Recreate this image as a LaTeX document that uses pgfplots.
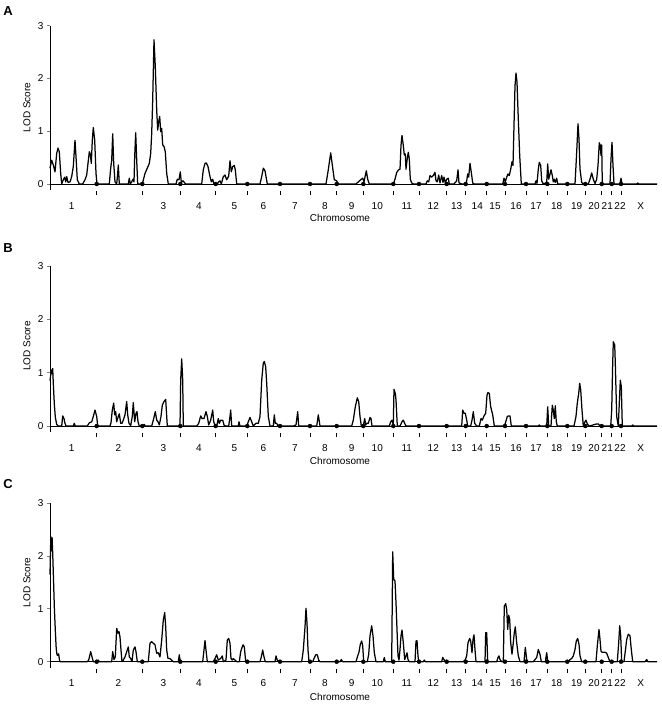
\documentclass[border=0pt]{standalone}
\usepackage{fontspec}
\setmainfont{Liberation Sans}
\usepackage{pgfplots}
\pgfplotsset{compat=1.18}

% x is genome position in screen units (one unit per pixel of the figure)
\pgfplotsset{lodpanel/.style={
    scale only axis, width=607pt,
    xmin=50, xmax=657, ymin=-0.11, ymax=3,
    axis lines*=left,
    x axis line style={draw=none},
    y axis line style={line width=0.8pt},
    xtick={71.7,118.3,163.3,199,234.3,263.3,295,325,351.7,377.3,406.7,433.3,456.7,477.3,495,516,536,556.7,576.7,594,607.3,620,640.7},
    xticklabels={1,2,3,4,5,6,7,8,9,10,11,12,13,14,15,16,17,18,19,20,21,22,X},
    xtick style={draw=none},
    xticklabel style={anchor=center, yshift=-13pt},
    ytick={0,1,2,3}, yticklabels={0,1,2,3},
    ytick style={line width=0.8pt},
    tick align=outside, major tick length=3pt,
    tick label style={font=\fontsize{10}{12}\selectfont},
    clip=false, anchor=south west,
}}
\pgfplotsset{lodline/.style={black, line width=1.25pt, sharp plot, line join=round}}

\def\boundaries{(96.7,0)(142.3,0)(180.3,0)(215.7,0)(247.3,0)(280,0)(310,0)(336.7,0)(363.3,0)(393.3,0)(419,0)(446.7,0)(465.7,0)(486.7,0)(505,0)(526,0)(547.3,0)(567.3,0)(585.3,0)(601.7,0)(611.7,0)(621,0)}
\def\dashes{(96.7,-0.17)(142.3,-0.17)(180.3,-0.17)(215.7,-0.17)(247.3,-0.17)(280,-0.17)(310,-0.17)(336.7,-0.17)(363.3,-0.17)(393.3,-0.17)(419,-0.17)(446.7,-0.17)(465.7,-0.17)(486.7,-0.17)(505,-0.17)(526,-0.17)(547.3,-0.17)(567.3,-0.17)(585.3,-0.17)(601.7,-0.17)(611.7,-0.17)(621,-0.17)}

\begin{document}
\begin{tikzpicture}
\useasboundingbox (0,0) rectangle (662pt,705pt);

\node[font=\fontsize{13}{15}\selectfont\bfseries] at (8pt,694pt) {A};
\node[font=\fontsize{13}{15}\selectfont\bfseries] at (8pt,457pt) {B};
\node[font=\fontsize{13}{15}\selectfont\bfseries] at (8pt,221pt) {C};

% ---------------- A
\begin{axis}[lodpanel, height=164.2pt, at={(50pt,515.2pt)}]
\addplot[black, line width=0.9pt] coordinates {(50,0)(657,0)};
\addplot[lodline] coordinates {
(50,0.30)(51.7,0.45)(53.3,0.36)(55,0.23)(56.7,0.58)(58,0.68)(59.3,0.61)(60.7,0.20)(61.7,0)(63.3,0.08)(64.7,0.13)(65.7,0.04)(66.7,0.14)(68,0.03)(70,0.04)(71.7,0.14)(73.3,0.33)(75,0.83)(76,0.52)(77.3,0.08)(79.3,0)
(82.7,0)(85,0.08)(86.7,0.17)(88,0.39)(89.3,0.61)(90.3,0.57)(91.3,0.39)(92.3,0.83)(93.3,1.07)(94.7,0.83)(96,0.20)(97,0)
(109.3,0)(110.7,0.30)(111.7,0.45)(112.7,0.95)(113.7,0.39)(115,0.04)(116.7,0)(117.7,0.20)(118.3,0.36)(119.3,0)
(128.3,0)(129.3,0.11)(130.3,0)(131.7,0.04)(133,0.09)(134,0.04)(134.7,0.52)(135.7,0.97)(136.7,0.45)(137.7,0)
(142.3,0)(145,0.20)(147.3,0.30)(149.3,0.39)(150.7,0.58)(151.7,0.96)(152.7,1.59)(154,2.73)(155.3,2.22)(156.7,1.40)(157.7,1.02)(158.7,1.18)(159.7,1.28)(160.7,0.99)(161.7,1.05)(162.7,0.74)(164,0.71)(165.3,0.61)(166.7,0.20)(168.3,0)
(176,0)(177.3,0.09)(179,0.08)(180.3,0.23)(181.3,0.03)(183,0.06)(184.3,0.03)(185.7,0)
(201.7,0)(203.3,0.27)(205,0.39)(206.3,0.40)(208,0.33)(210,0.14)(211.3,0.04)(212.7,0.09)(214,0)
(217.3,0)(218.7,0.04)(220,0.06)(221.3,0)(223.3,0.14)(225,0.17)(226.7,0.08)(228.7,0.15)(230,0.44)(231.3,0.23)(232.7,0.33)(234.3,0.35)(235.3,0.27)(236.7,0)
(260,0)(261.7,0.14)(263.3,0.30)(265,0.25)(267.3,0)
(326,0)(328.3,0.27)(330.7,0.59)(332.3,0.36)(334.3,0.08)(336.7,0.06)(338.3,0)
(356,0)(358.3,0.04)(360.7,0.08)(362.7,0.11)(364,0.04)(365.3,0.16)(366.3,0.25)(367.7,0.09)(369.3,0)
(393.3,0)(395,0.09)(396.7,0.22)(398.7,0.27)(400,0.28)(401,0.73)(402,0.92)(403.3,0.73)(404.3,0.55)(405.3,0.57)(406,0.28)(407.3,0.49)(408.3,0.60)(409.3,0.47)(410.3,0.09)(411.7,0.02)(413.3,0)
(426,0)(427.3,0.06)(428.7,0.04)(430,0.16)(431.7,0.13)(433.3,0.16)(435,0.22)(436,0.06)(437.3,0.04)(438.7,0.17)(440,0.02)(441.7,0.16)(443,0.03)(444,0.13)(445.3,0.02)(446.7,0.09)(448.3,0.11)(449.3,0)
(454,0)(456.7,0.06)(458,0.27)(459,0.02)(461.7,0)
(465.7,0)(466.7,0.06)(467.7,0.19)(468.7,0.13)(470,0.39)(471.3,0.22)(472.7,0.02)(474,0)
(502.7,0)(504,0.11)(505.3,0.04)(506.7,0.13)(508,0.19)(509.3,0.16)(510.7,0.28)(512,0.42)(513,0.35)(514,1.11)(515,1.86)(516,2.10)(517,1.93)(518.3,1.23)(519.7,0.54)(521.3,0)
(535,0)(536,0.06)(537,0.01)(538.3,0.28)(539.3,0.41)(540.7,0.35)(541.7,0.06)(543.3,0)(546.7,0.03)(547.7,0.38)(548.7,0.09)(550,0.19)(551,0.27)(552.3,0.16)(553.3,0.04)(554.3,0.09)(555.3,0.03)(556.7,0.11)(557.7,0)
(575,0)(576,0.35)(577,0.73)(578,1.14)(579,0.85)(580,0.28)(581.7,0.03)(583.3,0)
(588.3,0)(590,0.09)(591.7,0.21)(593.3,0.09)(595,0.01)(596.7,0.09)(598,0.35)(599.3,0.78)(600.3,0.73)(601,0.54)(601.7,0.74)(602.3,0)
(610,0)(611,0.47)(612,0.79)(613,0.35)(614,0)(620,0)(621,0.11)(622,0)(636.7,0)(637.7,0.02)(638.7,0)(657,0)
};
\addplot[only marks, mark=*, mark size=2pt, black] coordinates {\boundaries};
\addplot[only marks, mark=|, mark size=2pt, black, line width=0.8pt] coordinates {\dashes};
\node[rotate=90, font=\fontsize{10}{12}\selectfont] at (axis cs:27,1.45) {LOD Score};
\node[font=\fontsize{10}{12}\selectfont, yshift=-34pt] at (axis cs:340,0) {Chromosome};
\end{axis}

% ---------------- B
\begin{axis}[lodpanel, height=165.8pt, at={(50pt,273.1pt)}]
\addplot[black, line width=0.9pt] coordinates {(50,0)(657,0)};
\addplot[lodline] coordinates {
(50,0.85)(50.7,0.95)(51.3,1.05)(52,0.98)(52.7,1.08)(53.3,0.8)(54.3,0.42)(55.3,0.17)(56.7,0.03)(58.3,0)
(61.7,0)(62.7,0.19)(64,0.14)(65,0.05)(66,0)(73.3,0)(74.3,0.05)(75.3,0)
(87.3,0)(89.3,0.06)(91.7,0.08)(93.3,0.18)(95,0.30)(96.7,0.18)(97.7,0)
(110,0)(111,0.06)(112.3,0.30)(113.7,0.43)(114.7,0.21)(115.7,0.27)(116.7,0.08)(118.3,0.18)(119.3,0.23)(120.7,0.05)(122,0.05)(123.3,0.11)(125,0.21)(126.7,0.46)(127.7,0.21)(129,0.05)(130.7,0.01)(132.3,0.18)(133.3,0.44)(134.7,0.08)(136,0.24)(137,0.27)(138,0.08)(139.3,0)
(143.3,0)(144.3,0.03)(145.3,0)
(151.7,0)(153.3,0.11)(155.3,0.27)(156.7,0.11)(158,0.08)(159.3,0.02)(161,0.18)(162.3,0.39)(164,0.46)(165.7,0.50)(166.7,0.18)(167.3,0)
(180,0)(180.7,0.86)(181.7,1.26)(182.7,0.86)(183.3,0)
(196.7,0)(198.7,0.05)(200.7,0.19)(202,0.14)(204,0.14)(206,0.27)(207.3,0.18)(208.7,0.02)(210.7,0.11)(212.7,0.30)(213.7,0.08)(215.3,0)
(216.7,0)(218.3,0.14)(219.3,0.05)(220.7,0.11)(222.7,0.11)(224,0.02)(225.3,0)(228.7,0)(230,0.18)(230.7,0.30)(231.7,0)(238.3,0)(239,0.08)(240,0)
(246.7,0)(248.3,0.08)(250,0.16)(251.7,0.08)(253.3,0)(256,0.05)(258.3,0.05)(260,0.18)(261.7,0.86)(263.3,1.18)(264.3,1.21)(265.7,1.11)(266.7,0.80)(268.3,0.18)(270,0)
(273.3,0)(274.3,0.21)(275.3,0.05)(276.7,0.05)(278,0)
(293.3,0)(296,0.02)(297.7,0.27)(298.7,0)(316.7,0)(318.3,0.21)(320,0)
(351.7,0)(353.3,0.11)(355.3,0.36)(357.3,0.53)(358.7,0.46)(360,0.18)(361.3,0)(363.3,0)(364.7,0.14)(365.7,0.02)(366.7,0.05)(368.3,0.05)(370,0.16)(371,0.14)(372,0)
(389.3,0)(390.7,0.08)(392,0.11)(393.3,0.02)(394,0.69)(395.3,0.61)(396,0.49)(397.3,0)(400,0)(402,0.08)(403.3,0.11)(404.7,0.05)(406,0)
(461.7,0)(462.7,0.30)(464,0.24)(465.3,0.24)(466.7,0.11)(467.7,0)(470.7,0)(472,0.11)(473.3,0.27)(474.7,0.05)(476.7,0)
(479.3,0)(481,0.14)(482.3,0.11)(484,0.19)(485.7,0.24)(487,0.58)(488,0.63)(489.3,0.61)(490.7,0.36)(492.7,0.21)(494.3,0)
(504,0)(505.3,0.05)(507.3,0.18)(508.7,0.19)(510,0.19)(511.3,0)
(538.3,0)(539.3,0.02)(540.3,0)(546.7,0)(547.7,0.36)(548.7,0)(551,0)(552.3,0.39)(553.3,0.30)(554.3,0.14)(555.3,0.38)(556.3,0.08)(557.3,0)
(574,0)(576,0.18)(577.3,0.43)(578.7,0.61)(579.7,0.80)(580.7,0.68)(582,0.30)(583.3,0)(585,0.08)(586,0.11)(587.3,0.04)(589.3,0)(596.7,0.04)(598.3,0.04)(600,0)
(610.7,0)(611.7,0.30)(612.7,1.18)(613.3,1.58)(614.7,1.52)(615.3,1.18)(616.7,0.18)(618.3,0)(619.3,0.43)(620.3,0.86)(621.3,0.74)(622.3,0)
(631.7,0)(632.7,0.02)(633.7,0)(657,0)
};
\addplot[only marks, mark=*, mark size=2pt, black] coordinates {\boundaries};
\addplot[only marks, mark=|, mark size=2pt, black, line width=0.8pt] coordinates {\dashes};
\node[rotate=90, font=\fontsize{10}{12}\selectfont] at (axis cs:27,1.5) {LOD Score};
\node[font=\fontsize{10}{12}\selectfont, yshift=-35pt] at (axis cs:340,0) {Chromosome};
\end{axis}

% ---------------- C
\begin{axis}[lodpanel, height=164.2pt, at={(50pt,37.5pt)}]
\addplot[black, line width=0.9pt] coordinates {(50,0)(657,0)};
\addplot[lodline] coordinates {
(50,1.65)(50.8,2.37)(51.5,2.1)(52.1,2.35)(52.8,2.0)(53.6,1.5)(54.4,1.0)(55.3,0.6)(56.2,0.25)(57,0.13)(57.7,0.12)(58.7,0.15)(59.3,0.05)(60,0)
(87.3,0)(88.7,0.03)(90.7,0.19)(92,0.09)(93.3,0)(96.7,0)(98.3,0.03)(99.3,0)
(111.7,0)(112.7,0.19)(114,0.04)(115.3,0.09)(116.7,0.63)(118,0.54)(119,0.57)(120,0.47)(121,0.22)(122,0)(123.3,0.03)(125,0.09)(126.7,0.19)(128.3,0.28)(129.3,0.09)(130.7,0.06)(132,0)(133.3,0.22)(135,0.28)(136,0.19)(137.3,0)
(148.3,0)(150,0.35)(151.7,0.38)(153.3,0.35)(155,0.32)(156.7,0.16)(158.3,0.17)(160,0.09)(161.7,0.41)(163.3,0.79)(164.7,0.93)(165.7,0.66)(166.7,0.22)(168,0.06)(170,0.06)(171.7,0.03)(173.3,0)
(178.3,0)(179.3,0.13)(180.3,0)
(202.7,0)(204,0.22)(205,0.40)(206,0.22)(207.3,0)(213.3,0)(215,0.06)(216.7,0.13)(218.3,0.03)(220.7,0.06)(222.3,0.11)(223.3,0)
(226,0.03)(227.3,0.41)(228.7,0.44)(230,0.35)(231,0.06)(232.3,0.03)(233.3,0.06)(235,0.03)(236.7,0)
(239.3,0)(240.7,0.19)(241.7,0.25)(243,0.32)(244.3,0.28)(245.7,0)
(260,0)(261.3,0.09)(262.7,0.22)(264,0.09)(265.3,0)(275,0)(276,0.11)(277.3,0.03)(278.7,0)
(301.7,0)(303.3,0.22)(305,0.66)(306,1.01)(307,0.73)(308,0.22)(309,0)
(312.7,0)(314,0.06)(315.7,0.13)(317.3,0.13)(318.7,0.03)(320,0)(340,0)(341.3,0.04)(342.7,0)
(356,0)(357.7,0.11)(359,0.18)(360.3,0.33)(361.7,0.39)(362.7,0.30)(363.7,0)
(367.3,0)(368.7,0.14)(370,0.49)(371.7,0.68)(373,0.49)(374.3,0.17)(376,0)(383.3,0)(384.3,0.08)(385.3,0)
(391.7,0)(392.7,2.08)(393.7,1.56)(395,1.53)(396,1.12)(397,0.61)(398,0.11)(399,0.03)(400,0.23)(401,0.49)(402,0.60)(403.3,0.36)(404.7,0.04)(406,0.11)(407,0.17)(408,0.04)(409.3,0)
(415,0)(416,0.39)(417,0.40)(418,0.11)(418.7,0)(423.3,0)(424.3,0.03)(425.3,0)(441.7,0)(442.7,0.08)(444,0.04)(445.3,0)
(463.3,0)(465.3,0.04)(466.7,0.11)(468,0.36)(469.7,0.44)(470.7,0.39)(472,0.17)(473,0.42)(474,0.51)(475,0.23)(476,0)
(485,0)(485.7,0.55)(486.7,0.55)(487.7,0)
(496.7,0)(498,0.08)(499,0.11)(500,0.04)(501.7,0)
(503.3,0)(504.3,1.05)(505.7,1.10)(506.7,0.99)(507.7,0.61)(508.7,0.88)(509.7,0.80)(510.7,0.36)(512,0.14)(513.3,0.36)(514.3,0.55)(515.3,0.66)(516.7,0.36)(518.3,0.11)(520,0)
(524,0)(525.3,0.27)(526.7,0.04)(528,0)(533.3,0)(535,0.04)(536.7,0.08)(538.3,0.23)(540,0.14)(541.3,0)(545.3,0)(546.7,0.17)(547.7,0)
(568.3,0)(570,0.04)(571.7,0.06)(573.3,0.11)(575,0.23)(576.3,0.39)(577.7,0.44)(579,0.33)(580,0.11)(581.7,0)
(596,0)(597.3,0.30)(599,0.61)(600,0.42)(601,0.20)(602,0.18)(603.3,0.18)(605,0.18)(606.7,0.16)(608.3,0.08)(610,0)
(617.3,0)(618.7,0.36)(619.7,0.68)(620.7,0.49)(621.7,0)
(624,0)(625.3,0.20)(626.7,0.42)(628.3,0.52)(630,0.49)(631.3,0.23)(632.7,0)
(645,0)(646.7,0.04)(648,0)(657,0)
};
\addplot[only marks, mark=*, mark size=2pt, black] coordinates {\boundaries};
\addplot[only marks, mark=|, mark size=2pt, black, line width=0.8pt] coordinates {\dashes};
\node[rotate=90, font=\fontsize{10}{12}\selectfont] at (axis cs:27,1.5) {LOD Score};
\node[font=\fontsize{10}{12}\selectfont, yshift=-35pt] at (axis cs:340,0) {Chromosome};
\end{axis}
\end{tikzpicture}
\end{document}
